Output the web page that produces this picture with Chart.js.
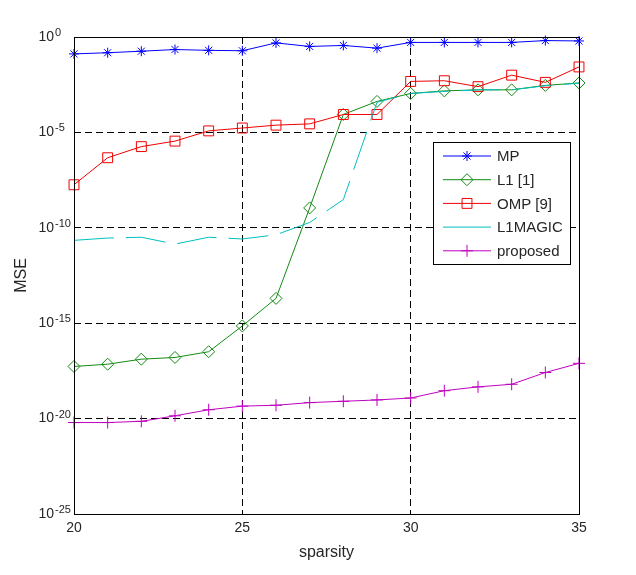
<!DOCTYPE html>
<html>
<head>
<meta charset="utf-8">
<script src="https://cdn.jsdelivr.net/npm/chart.js@4/dist/chart.umd.min.js"></script>
<style>
  html, body { margin: 0; padding: 0; background: #fff; }
  #wrap { width: 636px; height: 575px; }
</style>
</head>
<body>
<div id="wrap"><canvas id="chart" width="636" height="575"></canvas></div>
<script>
// sparsity values on the x axis
const sparsity = [20, 21, 22, 23, 24, 25, 26, 27, 28, 29, 30, 31, 32, 33, 34, 35];

// MSE per method
const mseMP = [1.3e-1, 1.5e-1, 1.8e-1, 2.2e-1, 2.0e-1, 1.9e-1, 4.9e-1, 3.2e-1,
               3.6e-1, 2.6e-1, 5.2e-1, 5.2e-1, 5.2e-1, 5.2e-1, 6.5e-1, 6.2e-1];
const mseL1 = [5.4e-18, 7.1e-18, 1.3e-17, 1.6e-17, 3.2e-17, 7.2e-16, 2.0e-14, 1.1e-9,
               8.7e-5, 4.2e-4, 1.1e-3, 1.5e-3, 1.7e-3, 1.7e-3, 2.9e-3, 3.9e-3];
const mseOMP = [1.8e-8, 4.7e-7, 1.8e-6, 3.5e-6, 1.2e-5, 1.7e-5, 2.4e-5, 2.8e-5,
                8.7e-5, 8.7e-5, 4.7e-3, 5.1e-3, 2.5e-3, 1.0e-2, 4.2e-3, 2.7e-2];
const mseL1MAGIC = [2.2e-11, 2.9e-11, 3.2e-11, 1.4e-11, 3.2e-11, 2.6e-11, 4.3e-11, 1.9e-10,
                    3.0e-9, 3.8e-4, 1.1e-3, 1.4e-3, 1.7e-3, 1.7e-3, 2.8e-3, 3.8e-3];
const mseProposed = [6.2e-21, 6.2e-21, 7.2e-21, 1.4e-20, 2.9e-20, 4.5e-20, 5.0e-20, 6.9e-20,
                     8.1e-20, 9.5e-20, 1.2e-19, 2.9e-19, 4.6e-19, 6.3e-19, 2.6e-18, 7.9e-18];

// tick labels
const xTicks = [20, 25, 30, 35];
const yTicks = [1e-25, 1e-20, 1e-15, 1e-10, 1e-5, 1];
const yTickExp = ['-25', '-20', '-15', '-10', '-5', '0'];

const seriesNames = ['MP', 'L1 [1]', 'OMP [9]', 'L1MAGIC', 'proposed'];
const seriesValues = [mseMP, mseL1, mseOMP, mseL1MAGIC, mseProposed];
const seriesColors = ['#0000ff', '#138a13', '#f00000', '#00bfbf', '#bf00bf'];
const seriesMarkers = ['star', 'rectRot', 'rect', false, 'cross'];
const markerSizes = [5, 6, 7, 0, 6];

const FONT = 'Arial, "Liberation Sans", sans-serif';
const TEXT = '#262626';

function toPoints(vals) {
    return vals.map((v, i) => ({x: sparsity[i], y: v}));
}

const datasets = seriesNames.map((name, i) => ({
    label: name,
    data: toPoints(seriesValues[i]),
    borderColor: seriesColors[i],
    backgroundColor: 'rgba(0,0,0,0)',
    borderWidth: 1,
    borderDash: seriesMarkers[i] ? [] : [40, 12],
    pointStyle: seriesMarkers[i] || 'circle',
    pointRadius: markerSizes[i],
    pointHoverRadius: markerSizes[i],
    pointBorderWidth: 1,
    pointBorderColor: seriesColors[i],
    pointBackgroundColor: 'rgba(0,0,0,0)',
    tension: 0,
    clip: false,
    order: seriesNames.length - i
}));

function drawMarker(ctx, style, x, y, r) {
    ctx.beginPath();
    if (style === 'star') {
        const d = r * Math.SQRT1_2;
        ctx.moveTo(x - r, y); ctx.lineTo(x + r, y);
        ctx.moveTo(x, y - r); ctx.lineTo(x, y + r);
        ctx.moveTo(x - d, y - d); ctx.lineTo(x + d, y + d);
        ctx.moveTo(x - d, y + d); ctx.lineTo(x + d, y - d);
    } else if (style === 'rectRot') {
        ctx.moveTo(x - r, y); ctx.lineTo(x, y - r);
        ctx.lineTo(x + r, y); ctx.lineTo(x, y + r);
        ctx.closePath();
    } else if (style === 'rect') {
        const s = r * Math.SQRT1_2;
        ctx.rect(x - s, y - s, 2 * s, 2 * s);
    } else if (style === 'cross') {
        ctx.moveTo(x - r, y); ctx.lineTo(x + r, y);
        ctx.moveTo(x, y - r); ctx.lineTo(x, y + r);
    }
    ctx.stroke();
}

const matlabLook = {
    id: 'matlabLook',
    afterDatasetsDraw(chart) {
        const {ctx, chartArea: a} = chart;
        ctx.save();

        // axes box
        ctx.strokeStyle = '#000';
        ctx.lineWidth = 1;
        ctx.setLineDash([]);
        ctx.strokeRect(Math.round(a.left) + 0.5, Math.round(a.top) + 0.5,
                       Math.round(a.right - a.left), Math.round(a.bottom - a.top));

        // y tick labels as 10^n
        const yScale = chart.scales.y;
        ctx.fillStyle = TEXT;
        yTicks.forEach((v, i) => {
            const py = yScale.getPixelForValue(v);
            const baseX = a.left - 20;
            ctx.font = '14px ' + FONT;
            ctx.textAlign = 'right';
            ctx.textBaseline = 'middle';
            ctx.fillText('10', baseX, py);
            ctx.font = '11px ' + FONT;
            ctx.textAlign = 'left';
            ctx.textBaseline = 'alphabetic';
            ctx.fillText(yTickExp[i], baseX + 1, py - 1);
        });

        // legend
        const lx = 433, ly = 142, lw = 137, lh = 122;
        ctx.fillStyle = '#fff';
        ctx.fillRect(lx, ly, lw, lh);
        ctx.strokeStyle = '#000';
        ctx.strokeRect(lx + 0.5, ly + 0.5, lw, lh);
        seriesNames.forEach((name, i) => {
            const y = 156 + i * 23.7;
            ctx.strokeStyle = seriesColors[i];
            ctx.lineWidth = 1;
            ctx.beginPath();
            ctx.moveTo(443, y);
            ctx.lineTo(491, y);
            ctx.stroke();
            if (seriesMarkers[i]) {
                drawMarker(ctx, seriesMarkers[i], 467, y, markerSizes[i]);
            }
            ctx.fillStyle = TEXT;
            ctx.font = '15px ' + FONT;
            ctx.textAlign = 'left';
            ctx.textBaseline = 'middle';
            ctx.fillText(name, 497, y + 1);
        });
        ctx.restore();
    }
};

const gridColor = (ctx, min, max) => {
    const v = ctx.tick && ctx.tick.value;
    return (v === min || v === max) ? 'rgba(0,0,0,0)' : '#000';
};

new Chart(document.getElementById('chart'), {
    type: 'line',
    data: { datasets: datasets },
    options: {
        responsive: false,
        animation: false,
        events: [],
        layout: { padding: { left: 0, right: 57, top: 37, bottom: 0 } },
        plugins: {
            legend: { display: false },
            tooltip: { enabled: false }
        },
        scales: {
            x: {
                type: 'linear',
                min: 20,
                max: 35,
                afterFit: scale => { scale.height = 61; },
                afterBuildTicks: scale => { scale.ticks = xTicks.map(v => ({value: v})); },
                grid: {
                    drawTicks: false,
                    lineWidth: 1,
                    color: ctx => gridColor(ctx, 20, 35)
                },
                border: { display: false, dash: [7, 4] },
                ticks: {
                    padding: 6,
                    color: TEXT,
                    font: { family: FONT, size: 14 },
                    callback: v => String(v)
                },
                title: {
                    display: true,
                    text: 'sparsity',
                    color: TEXT,
                    font: { family: FONT, size: 16 },
                    padding: { top: 0, bottom: 13 }
                }
            },
            y: {
                type: 'logarithmic',
                min: 1e-25,
                max: 1,
                afterFit: scale => { scale.width = 74; },
                afterBuildTicks: scale => { scale.ticks = yTicks.map(v => ({value: v})); },
                grid: {
                    drawTicks: false,
                    lineWidth: 1,
                    color: ctx => gridColor(ctx, 1e-25, 1)
                },
                border: { display: false, dash: [7, 4] },
                ticks: { display: false },
                title: {
                    display: true,
                    text: 'MSE',
                    color: TEXT,
                    font: { family: FONT, size: 16 },
                    padding: { top: 12, bottom: 0 }
                }
            }
        }
    },
    plugins: [matlabLook]
});
</script>
</body>
</html>
